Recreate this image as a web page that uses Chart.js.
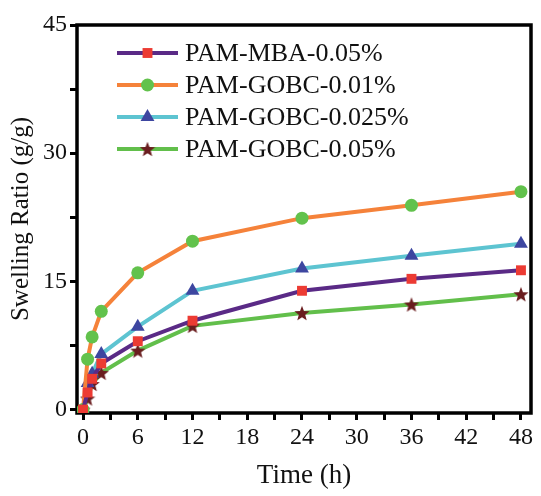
<!DOCTYPE html>
<html lang="en">
<head>
<meta charset="UTF-8">
<script src="https://cdn.jsdelivr.net/npm/chart.js"></script>
<style>
  html, body { margin: 0; padding: 0; background: #fff; }
  #wrap { width: 541px; height: 496px; }
</style>
</head>
<body>
<div id="wrap"><canvas id="chart" width="541" height="496"></canvas></div>
<script>
    // sampling times (h)
    const times = [0, 0.5, 1, 2, 6, 12, 24, 36, 48];

    // swelling ratio (g/g) per sample
    const mba005  = [0, 2.0, 3.6, 5.4, 8.0, 10.4, 13.9, 15.3, 16.3];
    const gobc001 = [0, 5.9, 8.5, 11.5, 16.0, 19.7, 22.4, 23.9, 25.5];
    const gobc0025 = [0, 3.1, 4.2, 6.5, 9.7, 13.9, 16.5, 18.0, 19.4];
    const gobc005 = [0, 1.3, 3.0, 4.3, 6.9, 9.8, 11.3, 12.3, 13.5];

    const labels = ['PAM-MBA-0.05%', 'PAM-GOBC-0.01%', 'PAM-GOBC-0.025%', 'PAM-GOBC-0.05%'];

    const xTickLabels = [0, 6, 12, 18, 24, 30, 36, 42, 48];
    const yTickLabels = [0, 15, 30, 45];

    const serif = '"Liberation Serif", "Times New Roman", serif';

    // filled star marker
    function makeStar(size, color) {
        const c = document.createElement('canvas');
        c.width = size; c.height = size;
        const g = c.getContext('2d');
        const cx = size / 2, cy = size / 2 + 0.8, R = size / 2, r = R * 0.42;
        g.beginPath();
        for (let i = 0; i < 10; i++) {
            const a = -Math.PI / 2 + i * Math.PI / 5;
            const rad = i % 2 === 0 ? R : r;
            g.lineTo(cx + rad * Math.cos(a), cy + rad * Math.sin(a));
        }
        g.closePath();
        g.fillStyle = color;
        g.fill();
        return c;
    }
    const star = makeStar(16, '#6a1d1f');

    function pts(ys) {
        return times.map((t, i) => ({ x: t, y: ys[i] }));
    }

    const datasets = [
        { label: labels[0], data: pts(mba005), borderColor: '#5a2a86', pointStyle: 'rect', pointRadius: 7, pointBackgroundColor: '#ec3b33', pointBorderColor: '#ec3b33' },
        { label: labels[1], data: pts(gobc001), borderColor: '#f5823a', pointStyle: 'circle', pointRadius: 6.5, pointBackgroundColor: '#62c24c', pointBorderColor: '#62c24c' },
        { label: labels[2], data: pts(gobc0025), borderColor: '#5dc4d1', pointStyle: 'triangle', pointRadius: 8, pointBackgroundColor: '#3d46a0', pointBorderColor: '#3d46a0' },
        { label: labels[3], data: pts(gobc005), borderColor: '#62bf4b', pointStyle: star, pointRadius: 7, pointBackgroundColor: '#6a1d1f', pointBorderColor: '#6a1d1f' }
    ];
    datasets.forEach(d => { d.borderWidth = 4; d.pointBorderWidth = 0; d.tension = 0; d.fill = false; });

    // frame around the plot area
    const framePlugin = {
        id: 'frame',
        beforeDatasetsDraw(chart) {
            const a = chart.chartArea, ctx = chart.ctx;
            ctx.save();
            ctx.strokeStyle = '#000';
            ctx.lineWidth = 3.5;
            ctx.strokeRect(a.left, a.top, a.right - a.left, a.bottom - a.top);
            ctx.restore();
        }
    };

    // legend: line + marker, inside plot top-left
    const legendPlugin = {
        id: 'lineLegend',
        afterDatasetsDraw(chart) {
            const a = chart.chartArea, ctx = chart.ctx;
            ctx.save();
            chart.data.datasets.forEach((d, i) => {
                const y = a.top + 28 + i * 32;
                const x0 = a.left + 40, x1 = a.left + 101;
                ctx.strokeStyle = d.borderColor;
                ctx.lineWidth = 4;
                ctx.beginPath(); ctx.moveTo(x0, y); ctx.lineTo(x1, y); ctx.stroke();
                ctx.fillStyle = d.pointBackgroundColor;
                ctx.strokeStyle = d.pointBorderColor;
                Chart.helpers.drawPoint(ctx, { pointStyle: d.pointStyle, radius: d.pointRadius, rotation: 0, borderWidth: 0 }, (x0 + x1) / 2, y);
                ctx.fillStyle = '#111';
                ctx.font = '26px ' + serif;
                ctx.textBaseline = 'middle';
                ctx.textAlign = 'left';
                ctx.fillText(d.label, x1 + 7, y + 1);
            });
            ctx.restore();
        }
    };

    const ctx = document.getElementById('chart').getContext('2d');
    new Chart(ctx, {
        type: 'line',
        data: { datasets: datasets },
        options: {
            responsive: false,
            animation: false,
            layout: { padding: { top: 25, right: 10, left: 0, bottom: 0 } },
            plugins: { legend: { display: false }, tooltip: { enabled: false } },
            scales: {
                x: {
                    type: 'linear',
                    min: -0.66,
                    max: 49.1,
                    afterBuildTicks(s) {
                        const t = [];
                        for (let v = 0; v <= 48; v += 3) t.push({ value: v });
                        s.ticks = t;
                    },
                    afterFit(s) { s.height = 83; },
                    ticks: {
                        color: '#111',
                        font: { family: serif, size: 24 },
                        padding: 3,
                        maxRotation: 0,
                        autoSkip: false,
                        callback: v => xTickLabels.includes(v) ? String(v) : ''
                    },
                    grid: { drawOnChartArea: false, tickLength: 7, tickWidth: 3, tickColor: '#000' },
                    border: { display: false },
                    title: { display: true, text: 'Time (h)', color: '#111', font: { family: serif, size: 27 }, padding: { top: 0, bottom: 4 } }
                },
                y: {
                    min: -0.4,
                    max: 45,
                    afterBuildTicks(s) {
                        const t = [];
                        for (let v = 0; v <= 45; v += 7.5) t.push({ value: v });
                        s.ticks = t;
                    },
                    afterFit(s) { s.width = 77; },
                    ticks: {
                        color: '#111',
                        font: { family: serif, size: 24 },
                        padding: 3,
                        autoSkip: false,
                        callback: v => yTickLabels.includes(v) ? String(v) : ''
                    },
                    grid: { drawOnChartArea: false, tickLength: 7, tickWidth: 3, tickColor: '#000' },
                    border: { display: false },
                    title: { display: true, text: 'Swelling Ratio (g/g)', color: '#111', font: { family: serif, size: 25 }, padding: { top: 6, bottom: 0 } }
                }
            }
        },
        plugins: [framePlugin, legendPlugin]
    });
</script>
</body>
</html>
